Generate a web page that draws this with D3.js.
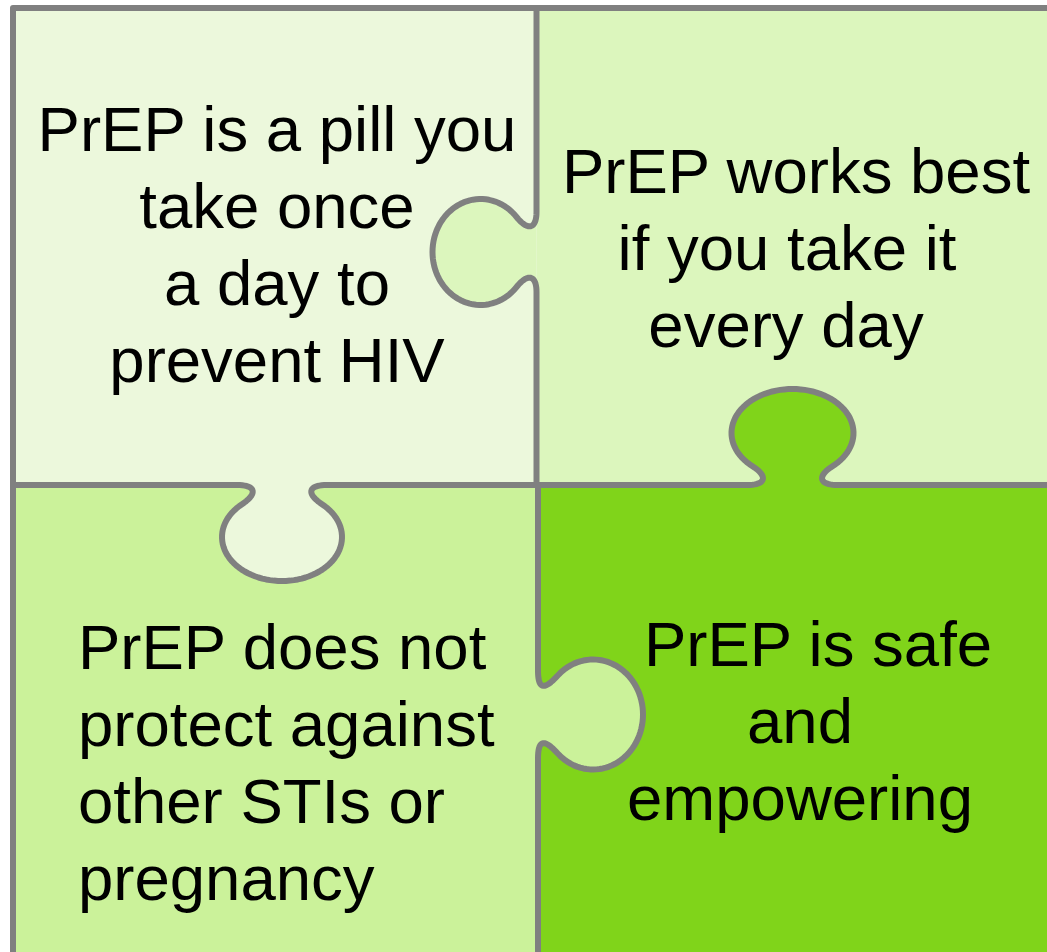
<!DOCTYPE html>
<html>
<head>
<meta charset="utf-8">
<script src="https://cdn.jsdelivr.net/npm/d3@7"></script>
<style>
html, body { margin: 0; padding: 0; background: #fff; }
svg { display: block; }
text { font-family: "Liberation Sans", Arial, sans-serif; font-size: 63.5px; fill: #000; }
</style>
</head>
<body>
<script>
// the four puzzle pieces and what they say
var pieceIds = ["tl", "tr", "bl", "br"];
var tlLines = ["PrEP is a pill you", "take once", "a day to", "prevent HIV"];
var trLines = ["PrEP works best", "if you take it", "every day"];
var blLines = ["PrEP does not", "protect against", "other STIs or", "pregnancy"];
var brLines = ["PrEP is safe", "and", "empowering"];

(function () {
    var width = 1047, height = 952;
    var left = 13, top = 8, midY = 485, topMidX = 536.5, botMidX = 538;
    var stroke = "#808080";

    var colors = { tl: "#ecf8dc", tr: "#dcf6bd", bl: "#cbf29a", br: "#80d41a" };

    var pieces = {
        tl: { x0: left, x1: topMidX, y0: top, y1: midY, lines: tlLines, anchor: "middle", xs: [277], y: 151 },
        tr: { x0: topMidX, x1: width + 5, y0: top, y1: midY, lines: trLines, anchor: "middle", xs: [796, 787, 786], y: 193 },
        bl: { x0: left, x1: botMidX, y0: midY, y1: height + 5, lines: blLines, anchor: "start", xs: [78], y: 669 },
        br: { x0: botMidX, x1: width + 5, y0: midY, y1: height + 5, lines: brLines, anchor: "middle", xs: [818, 800, 800], y: 666 }
    };
    var lineGap = 77;

    // knobs: which edge, where, which way they point, and who owns them
    var tabs = {
        a: { edge: "v", pos: topMidX, center: 252, dir: -1, ru: 53, rv: 48, vc: 56, a: 35, inner: 25, owner: "tr" },
        b: { edge: "h", pos: midY, center: 282, dir: 1, ru: 60, rv: 44, vc: 52, a: 40, inner: 27, owner: "tl" },
        c: { edge: "h", pos: midY, center: 792.5, dir: -1, ru: 61, rv: 44, vc: 52, a: 40, inner: 28, owner: "br" },
        d: { edge: "v", pos: botMidX, center: 714.5, dir: 1, ru: 55, rv: 50, vc: 55, a: 39, inner: 25, owner: "bl" }
    };

    function cubic(p0, c1, c2, p1, n, out) {
        for (var i = 0; i <= n; i++) {
            var t = i / n, s = 1 - t;
            out.push([
                s * s * s * p0[0] + 3 * s * s * t * c1[0] + 3 * s * t * t * c2[0] + t * t * t * p1[0],
                s * s * s * p0[1] + 3 * s * s * t * c1[1] + 3 * s * t * t * c2[1] + t * t * t * p1[1]
            ]);
        }
    }

    // outline of one knob in (u along edge, v into the neighbour) coords
    function tabLocal(t) {
        var pts = [];
        var phi = Math.acos(t.a / t.ru);
        var v1 = t.vc - t.rv * Math.sin(phi);
        var p1 = [-t.a, v1];
        // ellipse tangent at p1, heading out towards -u / +v
        var tu = -(t.vc - v1) / (t.rv * t.rv), tv = t.a / (t.ru * t.ru);
        var len = Math.sqrt(tu * tu + tv * tv);
        tu /= len; tv /= len;
        var k = 18;
        var p0 = [-t.a - 5, 0], c1 = [-t.inner + 2, 0], c2 = [p1[0] - k * tu, p1[1] - k * tv];
        cubic(p0, c1, c2, p1, 20, pts);
        var th0 = -Math.PI + phi, th1 = -2 * Math.PI - phi, steps = 72;
        for (var i = 1; i < steps; i++) {
            var th = th0 + (th1 - th0) * i / steps;
            pts.push([t.ru * Math.cos(th), t.vc + t.rv * Math.sin(th)]);
        }
        var back = [];
        cubic([-p1[0], p1[1]], [-c2[0], c2[1]], [-c1[0], c1[1]], [-p0[0], p0[1]], 20, back);
        return pts.concat(back);
    }

    function toGlobal(t, p) {
        if (t.edge === "v") return [t.pos + t.dir * p[1], t.center + p[0]];
        return [t.center + p[0], t.pos + t.dir * p[1]];
    }

    function tabPoints(t) {
        return tabLocal(t).map(function (p) { return toGlobal(t, p); });
    }

    var line = d3.line();

    var svg = d3.select("body").append("svg")
        .attr("width", width)
        .attr("height", height);

    // piece backgrounds
    svg.append("g").selectAll("rect")
        .data(pieceIds)
        .enter().append("rect")
        .attr("x", function (d) { return pieces[d].x0; })
        .attr("y", function (d) { return pieces[d].y0; })
        .attr("width", function (d) { return pieces[d].x1 - pieces[d].x0; })
        .attr("height", function (d) { return pieces[d].y1 - pieces[d].y0; })
        .attr("fill", function (d) { return colors[d]; });

    // knob fills
    svg.append("g").selectAll("path")
        .data(Object.keys(tabs))
        .enter().append("path")
        .attr("d", function (d) { return line(tabPoints(tabs[d])) + "Z"; })
        .attr("fill", function (d) { return colors[tabs[d].owner]; });

    // divider lines with knobs
    var vTop = [[topMidX, top]].concat(tabPoints(tabs.a), [[topMidX, midY]]);
    var hMid = [[left, midY]].concat(tabPoints(tabs.b), [[topMidX, midY]], tabPoints(tabs.c), [[width + 10, midY]]);
    var vBot = [[botMidX, midY]].concat(tabPoints(tabs.d), [[botMidX, height + 10]]);
    var border = [[left, height + 10], [left, top], [width + 10, top]];

    svg.append("g")
        .attr("fill", "none")
        .attr("stroke", stroke)
        .attr("stroke-width", 6)
        .attr("stroke-linejoin", "round")
        .selectAll("path")
        .data([border, vTop, hMid, vBot])
        .enter().append("path")
        .attr("d", line);

    // texts
    pieceIds.forEach(function (id) {
        var p = pieces[id];
        svg.append("g").selectAll("text")
            .data(p.lines)
            .enter().append("text")
            .attr("text-anchor", p.anchor)
            .attr("x", function (d, i) { return p.xs[Math.min(i, p.xs.length - 1)]; })
            .attr("y", function (d, i) { return p.y + i * lineGap; })
            .text(function (d) { return d; });
    });
})();
</script>
</body>
</html>
